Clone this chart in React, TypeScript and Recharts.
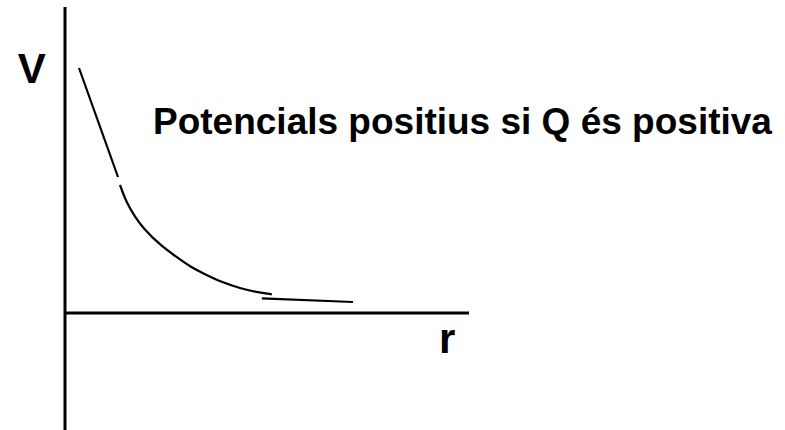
import { ComposedChart, Customized, Line, ReferenceLine, XAxis, YAxis } from 'recharts';

// Steep first stretch of the potential curve (straight piece)
const steepR = [0.35, 1.325];
const steepV = [24.5, 13.6];

// Main 1/r-like falloff
const curveR = [1.375, 1.54, 1.75, 1.95, 2.375, 2.79, 3.125, 3.54, 3.95, 4.375, 4.79, 5.17];
const curveV = [12.8, 11.0, 9.63, 8.5, 6.8, 5.6, 4.63, 3.8, 3.03, 2.47, 2.08, 1.87];

// Flat tail near the r axis
const tailR = [4.92, 7.2];
const tailV = [1.47, 1.1];

const axisRMax = 10.1;
const axisVTop = 30.6;
const axisVBottom = -11.7;

const title = 'Potencials positius si Q és positiva';
const vLabel = 'V';
const rLabel = 'r';

const toPoints = (rs: number[], vs: number[]) => rs.map((r, i) => ({ r, v: vs[i] }));

const font = 'Arial, "Liberation Sans", sans-serif';

function Labels() {
  return (
    <g fontFamily={font} fontWeight='bold' fill='#000'>
      <text x={31.7} y={83} fontSize={42} textAnchor='middle'>
        {vLabel}
      </text>
      <text x={439} y={353} fontSize={42}>
        {rLabel}
      </text>
      <text x={153} y={134} fontSize={37}>
        {title}
      </text>
    </g>
  );
}

export default function App() {
  return (
    <div style={{ position: 'absolute', left: 0, top: 0, background: '#fff' }}>
      <ComposedChart width={785} height={430} margin={{ top: 0, right: 0, bottom: 0, left: 65 }}>
        <XAxis type='number' dataKey='r' domain={[0, 18]} hide allowDataOverflow />
        <YAxis type='number' dataKey='v' domain={[axisVBottom, 31.3]} hide allowDataOverflow />
        <ReferenceLine
          segment={[{ x: 0, y: axisVBottom }, { x: 0, y: axisVTop }]}
          stroke='#000'
          strokeWidth={3}
          ifOverflow='visible'
        />
        <ReferenceLine
          segment={[{ x: 0, y: 0 }, { x: axisRMax, y: 0 }]}
          stroke='#000'
          strokeWidth={3}
          ifOverflow='visible'
        />
        <Line
          data={toPoints(steepR, steepV)}
          dataKey='v'
          type='linear'
          stroke='#000'
          strokeWidth={2.2}
          dot={false}
          isAnimationActive={false}
        />
        <Line
          data={toPoints(curveR, curveV)}
          dataKey='v'
          type='basis'
          stroke='#000'
          strokeWidth={2.2}
          dot={false}
          isAnimationActive={false}
        />
        <Line
          data={toPoints(tailR, tailV)}
          dataKey='v'
          type='linear'
          stroke='#000'
          strokeWidth={2.2}
          dot={false}
          isAnimationActive={false}
        />
        <Customized component={Labels} />
      </ComposedChart>
    </div>
  );
}
